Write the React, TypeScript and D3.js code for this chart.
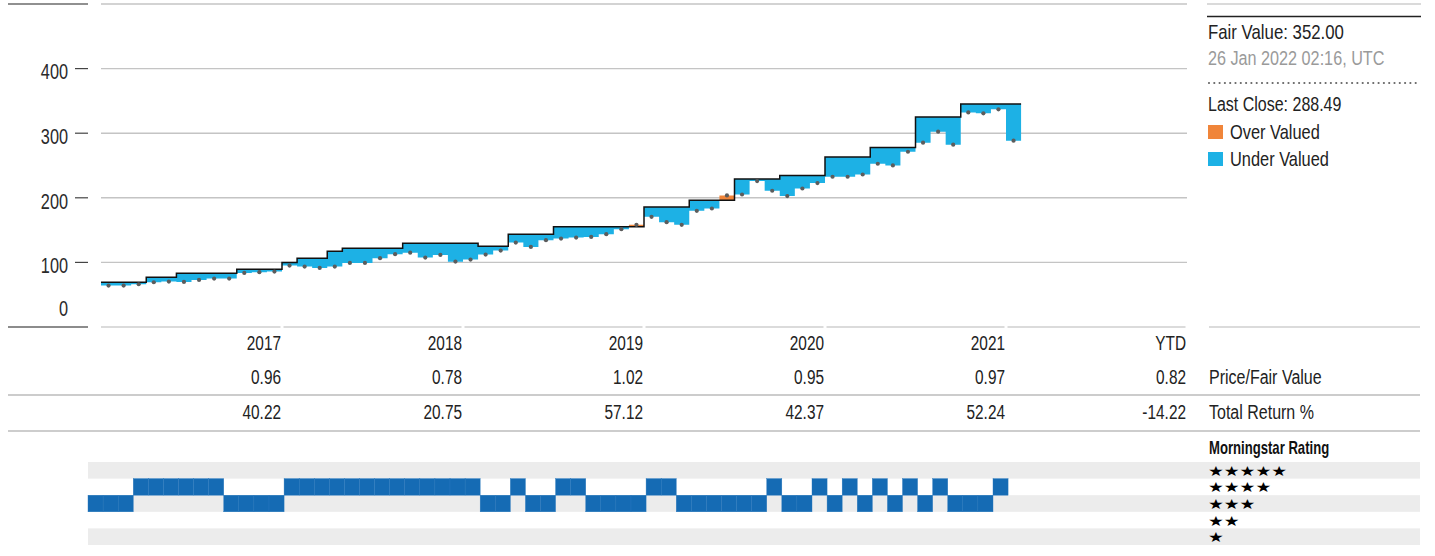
import React from "react";
import * as d3 from "d3";

// monthly values, Jan 2017 .. Jan 2022
const fairValue = [
  69.3, 69.3, 69.3, 77.1, 77.1, 83.3, 83.3, 83.3, 83.3, 89.5, 89.5, 89.5,
  99.7, 106.5, 106.5, 117.4, 122, 122, 122, 122, 129.8, 129.8, 129.8, 129.8,
  129.8, 125.1, 125.1, 143.7, 143.7, 143.7, 155, 155, 155, 155, 155, 155,
  185.6, 185.6, 185.6, 196.4, 196.4, 196.4, 229, 229, 229, 234.6, 234.6, 234.6,
  263.1, 263.1, 263.1, 278, 278, 278, 325.1, 325.1, 325.1, 345.3, 345.3, 345.3,
  345.3,
];

const closePrice = [
  64.1, 64.1, 66.2, 69.3, 70.3, 69.8, 72.9, 74.9, 74.9, 83.7, 84.8, 85.8,
  95.1, 93.5, 91.5, 93.5, 99.2, 99.2, 106.5, 112.7, 115, 107.4, 111.5, 101.2,
  104.3, 112.1, 118.3, 130.7, 124, 134.4, 136.9, 138.5, 139.5, 143.7, 151.5, 158.1,
  170.5, 162.3, 158.1, 179.8, 183.4, 203.6, 205.1, 225.9, 210.9, 202.6, 214.4, 222.8,
  232.6, 232.6, 236.1, 252.7, 250.1, 271.3, 285.3, 302.3, 282.2, 332.2, 330.7, 336.9,
  288.5,
];

const ratings = [
  3, 3, 3, 4, 4, 4, 4, 4, 4, 3, 3, 3,
  3, 4, 4, 4, 4, 4, 4, 4, 4, 4, 4, 4,
  4, 4, 3, 3, 4, 3, 3, 4, 4, 3, 3, 3,
  3, 4, 4, 3, 3, 3, 3, 3, 3, 4, 3, 3,
  4, 3, 4, 3, 4, 3, 4, 3, 4, 3, 3, 3,
  4,
];

const yTicks = [0, 100, 200, 300, 400];
const years = ["2017", "2018", "2019", "2020", "2021", "YTD"];
const priceFair = ["0.96", "0.78", "1.02", "0.95", "0.97", "0.82"];
const totalReturn = ["40.22", "20.75", "57.12", "42.37", "52.24", "-14.22"];
const ratingLevels = [5, 4, 3, 2, 1];

const FONT = '"Liberation Sans", Arial, sans-serif';
const BLUE = "#1db1e5";
const ORANGE = "#f0853a";
const RATING_BLUE = "#156bb4";

// condensed text: the source font is narrow, so squeeze a regular face
function T({
  x,
  y,
  size,
  sx = 0.82,
  anchor = "start",
  fill = "#222",
  weight = "normal",
  family = FONT,
  children,
}: {
  x: number;
  y: number;
  size: number;
  sx?: number;
  anchor?: string;
  fill?: string;
  weight?: string;
  family?: string;
  children: React.ReactNode;
}) {
  return (
    <text
      transform={`translate(${x},${y}) scale(${sx},1)`}
      dy="0.35em"
      fontSize={size}
      textAnchor={anchor}
      fill={fill}
      fontWeight={weight}
      fontFamily={family}
    >
      {children}
    </text>
  );
}

export default function App() {
  const x = d3.scaleLinear().domain([0, 72]).range([101, 1187]);
  const xr = d3.scaleLinear().domain([0, 72]).range([88, 1174]);
  const y = d3.scaleLinear().domain([0, 500]).range([327, 4]);
  const rowY = d3.scaleBand<number>().domain(ratingLevels).range([462, 545]);

  const n = fairValue.length;
  const pts = fairValue.map((v, i) => ({ i, fv: v, p: closePrice[i] }));
  pts.push({ i: n, fv: fairValue[n - 1], p: closePrice[n - 1] });

  const stepLine = d3
    .line<{ i: number; fv: number; p: number }>()
    .x((d) => x(d.i))
    .y((d) => y(d.fv))
    .curve(d3.curveStepAfter);

  const underArea = d3
    .area<{ i: number; fv: number; p: number }>()
    .x((d) => x(d.i))
    .y0((d) => y(Math.min(d.p, d.fv)))
    .y1((d) => y(d.fv))
    .curve(d3.curveStepAfter);

  const overArea = d3
    .area<{ i: number; fv: number; p: number }>()
    .x((d) => x(d.i))
    .y0((d) => y(d.fv))
    .y1((d) => y(Math.max(d.p, d.fv)))
    .curve(d3.curveStepAfter);

  const colEnd = (k: number) => x(12 * (k + 1));
  const colStart = (k: number) => x(12 * k);

  return (
    <svg
      width={1435}
      height={556}
      style={{ position: "absolute", left: 0, top: 0, display: "block" }}
      fontFamily={FONT}
    >
      {/* left axis decorations */}
      <line x1={8} x2={88} y1={y(500)} y2={y(500)} stroke="#222" strokeWidth={1.2} />
      <line x1={8} x2={88} y1={y(0)} y2={y(0)} stroke="#666" strokeWidth={1.6} />

      {/* gridlines */}
      {[100, 200, 300, 400, 500].map((t) => (
        <line
          key={t}
          x1={x(0)}
          x2={x(72)}
          y1={y(t)}
          y2={y(t)}
          stroke="#c4c4c4"
          strokeWidth={1.4}
        />
      ))}
      {yTicks
        .filter((t) => t > 0)
        .map((t) => (
          <line key={t} x1={75} x2={88} y1={y(t)} y2={y(t)} stroke="#444" strokeWidth={1.2} />
        ))}
      {yTicks.map((t) => (
        <T
          key={t}
          x={68}
          y={t === 0 ? y(0) - 19 : y(t) + 3}
          size={22}
          sx={0.74}
          anchor="end"
          fill="#2a2a2a"
        >
          {t}
        </T>
      ))}

      {/* bottom axis segments by year */}
      {years.map((yr, k) => (
        <line
          key={yr}
          x1={colStart(k) + (k === 0 ? 0 : 1.5)}
          x2={colEnd(k) - 1.5}
          y1={y(0)}
          y2={y(0)}
          stroke="#cfcfcf"
          strokeWidth={1.6}
        />
      ))}

      {/* valuation fills */}
      <path d={underArea(pts) || ""} fill={BLUE} />
      <path d={overArea(pts) || ""} fill={ORANGE} />
      <path d={stepLine(pts) || ""} fill="none" stroke="#111" strokeWidth={1.5} />
      {closePrice.map((p, i) => (
        <circle key={i} cx={x(i + 0.5)} cy={y(p)} r={2.1} fill="#5c5c5c" />
      ))}

      {/* table */}
      {years.map((yr, k) => (
        <g key={yr}>
          <T x={colEnd(k) - 1} y={343} size={20} sx={0.77} anchor="end">
            {yr}
          </T>
          <T x={colEnd(k) - 1} y={377} size={20} sx={0.77} anchor="end">
            {priceFair[k]}
          </T>
          <T x={colEnd(k) - 1} y={412} size={20} sx={0.77} anchor="end">
            {totalReturn[k]}
          </T>
        </g>
      ))}
      <line x1={1209} x2={1420} y1={y(0)} y2={y(0)} stroke="#cfcfcf" strokeWidth={1.6} />
      <T x={1209} y={377} size={20} sx={0.8}>
        Price/Fair Value
      </T>
      <T x={1209} y={412} size={20} sx={0.8}>
        Total Return %
      </T>
      <line x1={8} x2={1420} y1={395} y2={395} stroke="#cccccc" strokeWidth={2} />
      <line x1={8} x2={1420} y1={431} y2={431} stroke="#bdbdbd" strokeWidth={1.4} />

      {/* legend */}
      <line x1={1207} x2={1421} y1={4} y2={4} stroke="#b5b5b5" strokeWidth={1.2} />
      <line x1={1207} x2={1421} y1={16.5} y2={16.5} stroke="#222" strokeWidth={1.6} />
      <T x={1208} y={32} size={20} sx={0.84}>
        Fair Value: 352.00
      </T>
      <T x={1208} y={58} size={20} sx={0.81} fill="#9a9a9a">
        26 Jan 2022 02:16, UTC
      </T>
      <line
        x1={1209}
        x2={1421}
        y1={83}
        y2={83}
        stroke="#666"
        strokeWidth={2.2}
        strokeLinecap="round"
        strokeDasharray="0 5.3"
      />
      <T x={1208} y={104} size={20} sx={0.8}>
        Last Close: 288.49
      </T>
      <rect x={1208} y={125} width={15} height={14} fill={ORANGE} />
      <T x={1230} y={132} size={20} sx={0.82}>
        Over Valued
      </T>
      <rect x={1208} y={152} width={15} height={14} fill={BLUE} />
      <T x={1230} y={159} size={20} sx={0.82}>
        Under Valued
      </T>

      {/* Morningstar rating */}
      <T x={1209} y={448} size={17.5} sx={0.75} weight="bold" fill="#111">
        Morningstar Rating
      </T>
      {ratingLevels.map((r, k) =>
        k % 2 === 0 ? (
          <rect
            key={r}
            x={88}
            y={rowY(r)}
            width={1420 - 88}
            height={rowY.bandwidth()}
            fill="#ececec"
          />
        ) : null
      )}
      {ratingLevels.map((r) => (
        <T
          key={r}
          x={1208}
          y={(rowY(r) || 0) + rowY.bandwidth() / 2 + 0.5}
          size={14}
          sx={1.26}
          family='"DejaVu Sans", sans-serif'
          fill="#000"
        >
          {"★".repeat(r)}
        </T>
      ))}
      {ratings.map((r, i) => (
        <rect
          key={i}
          x={xr(i)}
          y={rowY(r)}
          width={xr(i + 1) - xr(i)}
          height={rowY.bandwidth()}
          fill={RATING_BLUE}
          stroke="#2a78bd"
          strokeWidth={0.4}
        />
      ))}
    </svg>
  );
}
